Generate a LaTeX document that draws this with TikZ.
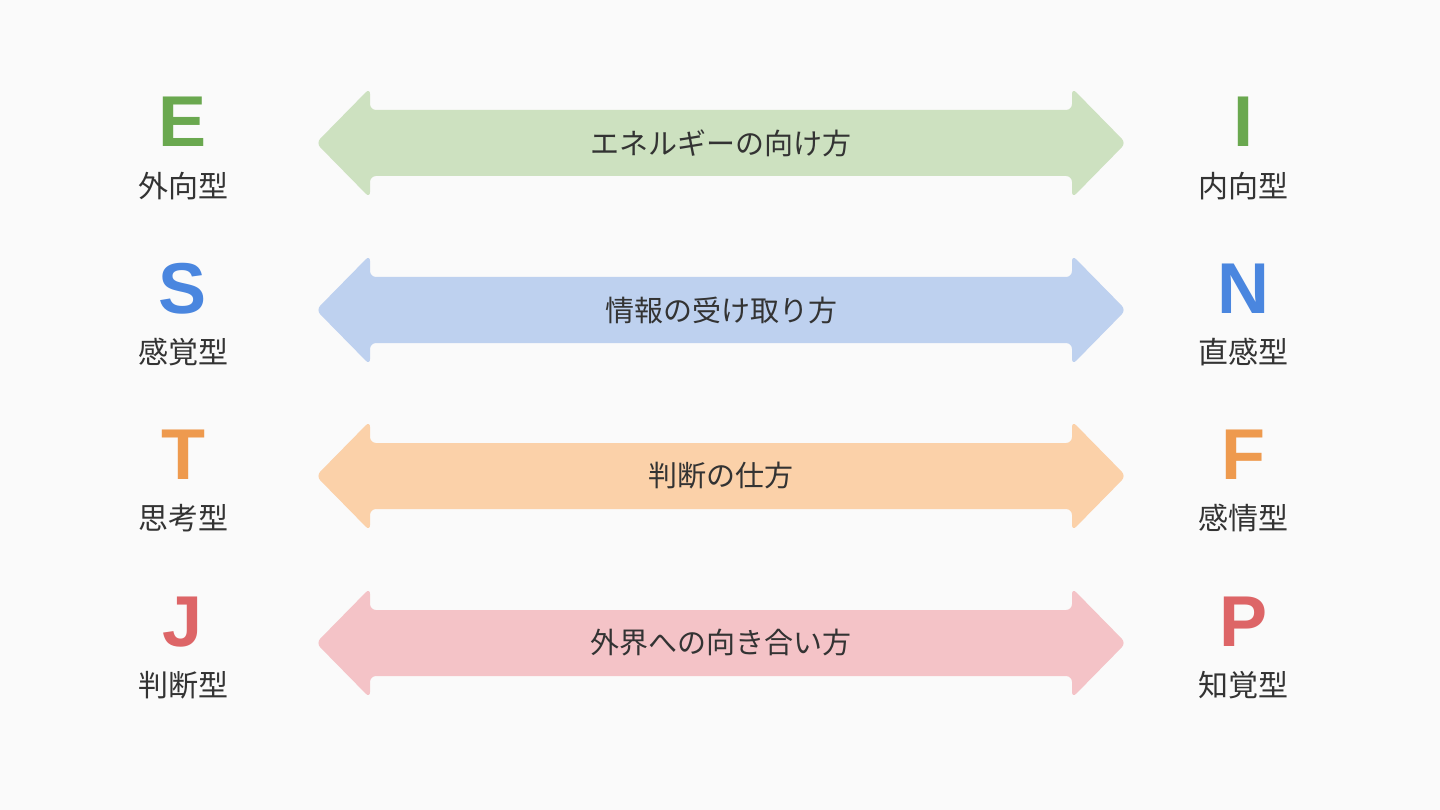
\documentclass[tikz,border=0pt]{standalone}
\usepackage{fontspec}
\setmainfont{Liberation Sans}
\newfontfamily\cjk{Noto Sans CJK JP}
\definecolor{bg}{HTML}{FAFAFA}
\definecolor{ga}{HTML}{CDE1C0}\definecolor{gl}{HTML}{6AA84F}
\definecolor{ba}{HTML}{BED1EF}\definecolor{bl}{HTML}{4A86DF}
\definecolor{oa}{HTML}{FBD1A9}\definecolor{ol}{HTML}{EE9A4E}
\definecolor{pa}{HTML}{F4C3C7}\definecolor{pl}{HTML}{DD6567}
\definecolor{tx}{HTML}{333333}
\begin{document}
\begin{tikzpicture}[x=1pt,y=-1pt,
 letter/.style={font=\fontsize{72}{72}\selectfont\bfseries,anchor=center},
 lab/.style={font=\cjk\fontsize{30}{30}\selectfont,text=tx,anchor=center},
 atext/.style={font=\cjk\fontsize{29}{29}\selectfont,text=tx,anchor=center}]
\fill[bg] (0,0) rectangle (1440,810);
\useasboundingbox (0,0) rectangle (1440,810);
\newcommand\dbl[2]{%
 \fill[#2,rounded corners=6pt] (316,#1) -- (370,#1-55) -- (370,#1-33) -- (1072,#1-33) -- (1072,#1-55) -- (1126,#1) -- (1072,#1+55) -- (1072,#1+33) -- (370,#1+33) -- (370,#1+55) -- cycle;
}
\dbl{143}{ga}
\dbl{310}{ba}
\dbl{476}{oa}
\dbl{643}{pa}
\node[atext] (a1) at (721,143) {エネルギーの向け方};
\node[atext] (a2) at (721,310) {情報の受け取り方};
\node[atext] (a3) at (721,476) {判断の仕方};
\node[atext] (a4) at (721,643) {外界への向き合い方};
\node[letter,text=gl] (E) at (183,122) {E};
\node[letter,text=gl] (I) at (1243,122) {I};
\node[letter,text=bl] (S) at (183,289) {S};
\node[letter,text=bl] (N) at (1243,289) {N};
\node[letter,text=ol] (T) at (183,455) {T};
\node[letter,text=ol] (F) at (1243,455) {F};
\node[letter,text=pl] (J) at (183,622) {J};
\node[letter,text=pl] (P) at (1243,622) {P};
\node[lab] (e) at (183,186) {外向型};
\node[lab] (i) at (1243,186) {内向型};
\node[lab] (s) at (183,352) {感覚型};
\node[lab] (n) at (1243,352) {直感型};
\node[lab] (t) at (183,518) {思考型};
\node[lab] (f) at (1243,518) {感情型};
\node[lab] (j) at (183,685) {判断型};
\node[lab] (p) at (1243,685) {知覚型};
\end{tikzpicture}
\end{document}
